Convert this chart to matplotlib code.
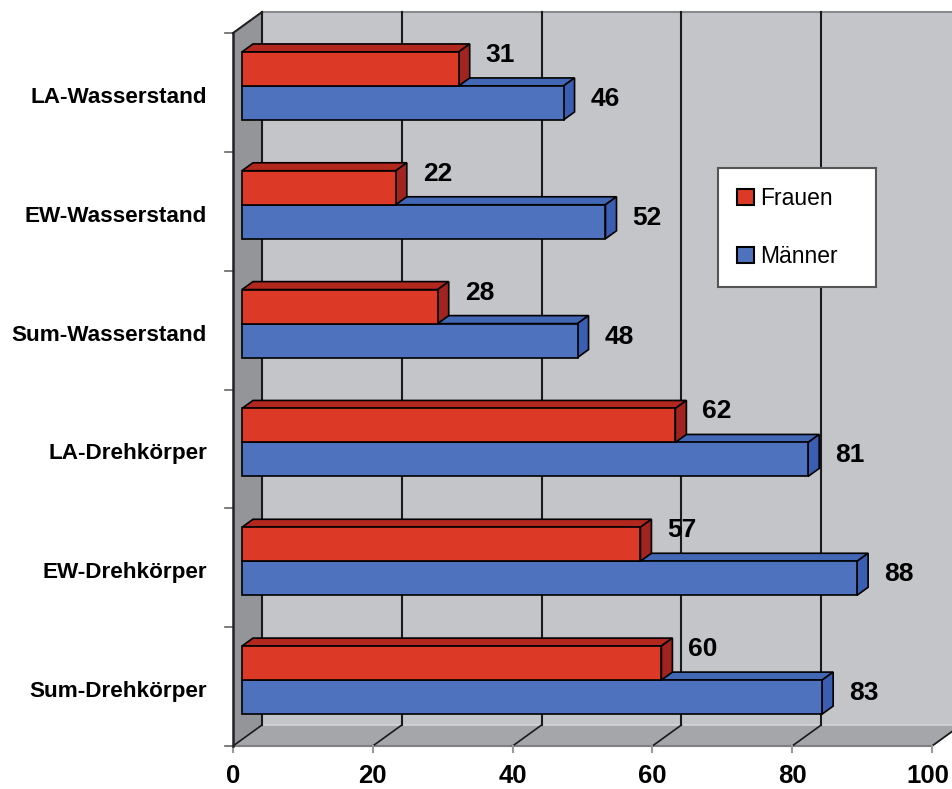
import matplotlib
matplotlib.use("Agg")
import matplotlib.pyplot as plt
from matplotlib.patches import Polygon, Patch

# ───── Data ─────
categories = ["LA-Wasserstand", "EW-Wasserstand", "Sum-Wasserstand",
              "LA-Drehkörper", "EW-Drehkörper", "Sum-Drehkörper"]
frauen = [31, 22, 28, 62, 57, 60]
maenner = [46, 52, 48, 81, 88, 83]
x_ticks = [0, 20, 40, 60, 80, 100]
series_names = ["Frauen", "Männer"]

# ───── Look ─────
W, H = 953, 789
PX_X = 6.99        # pixels per value unit
PX_Y = 118.83      # pixels per category slot
X0_PX, FLOOR_PX = 233, 746
DX, DY = 29 / PX_X, 21 / PX_Y   # wall depth in data units
D0, D1 = 0.31, 0.69             # bar depth range (fraction of wall depth)
BAR_H = 34 / PX_Y
FONT = "Liberation Sans"

RED = ("#DC3A26", "#B2281F", "#A12420")    # front, top, side
BLUE = ("#4E72BD", "#4267B5", "#3A5FB2")

fig = plt.figure(figsize=(W / 100, H / 100), dpi=100)
ax = fig.add_axes([0, 0, 1, 1])
ax.set_xlim(-X0_PX / PX_X, (W - X0_PX) / PX_X)
ax.set_ylim(-(H - FLOOR_PX) / PX_Y, FLOOR_PX / PX_Y)
ax.axis("off")

n = len(categories)
xmax = x_ticks[-1]

# walls + floor
ax.add_patch(Polygon([(DX, DY), (xmax + DX, DY), (xmax + DX, n + DY), (DX, n + DY)],
                     fc="#C4C5C9", ec="none", zorder=0))
ax.add_patch(Polygon([(0, 0), (xmax, 0), (xmax + DX, DY), (DX, DY)],
                     fc="#A4A6AA", ec="none", zorder=0))
ax.add_patch(Polygon([(0, 0), (DX, DY), (DX, n + DY), (0, n)],
                     fc="#939599", ec="none", zorder=0))
ax.plot([DX, xmax + DX], [n + DY, n + DY], color="#8a8b8e", lw=1.5, zorder=1)
ax.plot([DX, xmax + DX], [DY, DY], color="#d4d5d8", lw=1.2, zorder=1)
ax.plot([0, xmax], [0, 0], color="#7f8083", lw=1.5, zorder=1)
ax.plot([xmax, xmax + DX], [0, DY], color="#7f8083", lw=1.2, zorder=1)
ax.plot([0, 0], [0, n], color="#222222", lw=1.8, zorder=2)
ax.plot([0, DX], [n, n + DY], color="#222222", lw=1.5, zorder=2)

# grid lines on back wall and floor, x tick labels
for v in x_ticks:
    ax.plot([v + DX, v + DX], [DY, n + DY], color="#1a1a1a", lw=1.5, zorder=1)
    ax.plot([v, v + DX], [0, DY], color="#1a1a1a", lw=1.2, zorder=1)
    ax.plot([v, v], [0, -6 / PX_Y], color="#9a9a9a", lw=1.5, zorder=1)
    last = v == xmax
    ax.text(v + (17 / PX_X if last else 0), -(788 - FLOOR_PX) / PX_Y, str(v),
            ha="right" if last else "center", va="bottom",
            fontsize=18.5, fontweight="bold", family=FONT)
for k in range(n + 1):
    ax.plot([-8 / PX_X, 0], [k, k], color="#666666", lw=1.2, zorder=1)

# bars
pos = [n - 1 - i + 0.5 + D0 * DY for i in range(n)]
left = D0 * DX
ex, ey = (D1 - D0) * DX, (D1 - D0) * DY


def bar3d(centers, values, colors, z):
    ax.barh(centers, values, height=BAR_H, left=left, color=colors[0],
            edgecolor="black", lw=1.2, zorder=z + 1)
    for c, v in zip(centers, values):
        b, t, r = c - BAR_H / 2, c + BAR_H / 2, left + v
        ax.add_patch(Polygon([(left, t), (r, t), (r + ex, t + ey), (left + ex, t + ey)],
                             fc=colors[1], ec="black", lw=1.2, zorder=z))
        ax.add_patch(Polygon([(r, b), (r + ex, b + ey), (r + ex, t + ey), (r, t)],
                             fc=colors[2], ec="black", lw=1.2, zorder=z))


red_c = [p + BAR_H / 2 for p in pos]
blue_c = [p - BAR_H / 2 for p in pos]
bar3d(blue_c, maenner, BLUE, 3)
bar3d(red_c, frauen, RED, 5)

# value labels
for c, v in zip(red_c, frauen):
    ax.annotate(str(v), xy=(left + v, c + BAR_H / 2), xytext=(27, -3),
                textcoords="offset pixels", ha="left", va="center",
                fontsize=19, fontweight="bold", family=FONT, zorder=8)
for c, v in zip(blue_c, maenner):
    ax.annotate(str(v), xy=(left + v, c + BAR_H / 2), xytext=(27, -13),
                textcoords="offset pixels", ha="left", va="center",
                fontsize=19, fontweight="bold", family=FONT, zorder=8)

# category labels
for i, cat in enumerate(categories):
    ax.text((207 - X0_PX) / PX_X, n - 1 - i + 0.5 - 5 / PX_Y, cat, ha="right", va="center",
            fontsize=16.2, fontweight="bold", family=FONT)

# legend
handles = [Patch(fc=RED[0], ec="black", lw=1.5), Patch(fc=BLUE[0], ec="black", lw=1.5)]
leg = ax.legend(handles, series_names, loc="upper left",
                bbox_to_anchor=(718 / W, 1 - 168 / H, (876 - 718) / W, 0),
                bbox_transform=fig.transFigure, mode="expand",
                prop={"family": FONT, "size": 16.5}, frameon=True, fancybox=False,
                edgecolor="#555555", framealpha=1, handlelength=0.7, handleheight=0.7,
                handletextpad=0.3, labelspacing=1.5, borderpad=0.85, borderaxespad=0)
leg.get_frame().set_linewidth(1.5)
leg.set_zorder(10)

fig.savefig("out.png", dpi=100)
